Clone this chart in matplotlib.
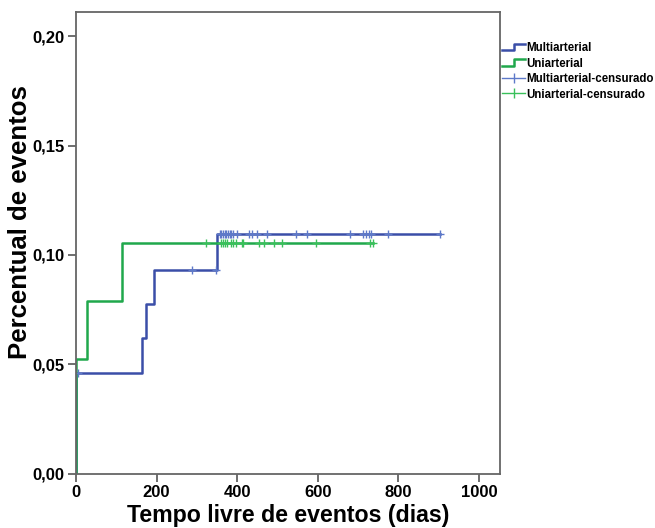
import matplotlib
matplotlib.use("Agg")
import matplotlib.pyplot as plt
from matplotlib.lines import Line2D
from matplotlib.legend_handler import HandlerBase

plt.rcParams["font.family"] = ["Liberation Sans", "DejaVu Sans"]
plt.rcParams["font.weight"] = "bold"

# event times (days) and cumulative event fraction
multi_times = [0, 165, 175, 193, 350]
multi_values = [0.0461, 0.0618, 0.0774, 0.0931, 0.1095]
multi_end = 903
uni_times = [0, 28, 114]
uni_values = [0.0525, 0.0789, 0.1056]
uni_end = 737

# censored observations (day, level)
multi_cens_x = [6, 288, 347, 357, 361, 365, 369, 373, 377, 382, 386, 390,
                400, 430, 438, 450, 473, 547, 574, 681, 712, 721, 727, 733,
                774, 903]
multi_cens_y = [0.0461, 0.0931, 0.0931] + [0.1095] * 23
uni_cens_x = [322, 361, 365, 369, 374, 384, 390, 396, 411, 415, 455, 467,
              492, 512, 595, 731, 737]
uni_cens_y = [0.1056] * 17

color_multi = "#3b4ea8"
color_uni = "#20a84c"
color_multi_c = "#5d79c9"
color_uni_c = "#39c05a"


def step_xy(times, values, end):
    xs = [0]
    ys = [0]
    for t, v in zip(times, values):
        xs += [t, t]
        ys += [ys[-1], v]
    xs.append(end)
    ys.append(ys[-1])
    return xs, ys


class StepHandler(HandlerBase):
    def create_artists(self, legend, orig_handle, xdescent, ydescent,
                       width, height, fontsize, trans):
        x0, x1 = -xdescent, -xdescent + width
        yl, yh = -ydescent + 0.1 * height, -ydescent + 0.9 * height
        xm = x0 + 0.5 * width
        line = Line2D([x0, xm, xm, x1], [yl, yl, yh, yh],
                      color=orig_handle.get_color(), lw=orig_handle.get_linewidth())
        line.set_transform(trans)
        return [line]


fig = plt.figure(figsize=(6.55, 5.28), dpi=100)
ax = fig.add_axes((0.116, 0.103, 0.647, 0.874))

mx, my = step_xy(multi_times, multi_values, multi_end)
ux, uy = step_xy(uni_times, uni_values, uni_end)
(l_multi,) = ax.plot(mx, my, color=color_multi, lw=1.8, label="Multiarterial")
(l_uni,) = ax.plot(ux, uy, color=color_uni, lw=1.8, label="Uniarterial")
ax.plot(multi_cens_x, multi_cens_y, ls="none", marker="+",
        ms=6, mew=1.0, color=color_multi_c)
ax.plot(uni_cens_x, uni_cens_y, ls="none", marker="+",
        ms=6, mew=1.0, color=color_uni_c)

# legend proxies for censored marks: short line with a vertical tick
c_multi = Line2D([], [], color=color_multi_c, lw=1.0, marker="|", ms=7,
                 mew=1.0, label="Multiarterial-censurado")
c_uni = Line2D([], [], color=color_uni_c, lw=1.0, marker="|", ms=7,
               mew=1.0, label="Uniarterial-censurado")

ax.set_xlim(0, 1052)
ax.set_ylim(0, 0.211)
ax.set_xticks([0, 200, 400, 600, 800, 1000])
ax.set_yticks([0.0, 0.05, 0.10, 0.15, 0.20])
ax.set_yticklabels(["0,00", "0,05", "0,10", "0,15", "0,20"])
ax.tick_params(labelsize=12, length=6, width=1.2, color="#555555", pad=2)
for s in ax.spines.values():
    s.set_color("#666666")
    s.set_linewidth(1.3)

ax.set_xlabel("Tempo livre de eventos (dias)", fontsize=16.7, fontweight="bold",
              labelpad=3)
ax.set_ylabel("Percentual de eventos", fontsize=18.5, fontweight="bold")
ax.yaxis.set_label_coords(-0.104, 0.545)

ax.legend(handles=[l_multi, l_uni, c_multi, c_uni],
          handler_map={l_multi: StepHandler(), l_uni: StepHandler()},
          loc="upper left", bbox_to_anchor=(1.0, 0.94), frameon=False,
          fontsize=8.3, handlelength=2.0, handletextpad=0.1,
          labelspacing=0.3, borderaxespad=0.0, borderpad=0.2)

fig.savefig("out.png", dpi=100)
